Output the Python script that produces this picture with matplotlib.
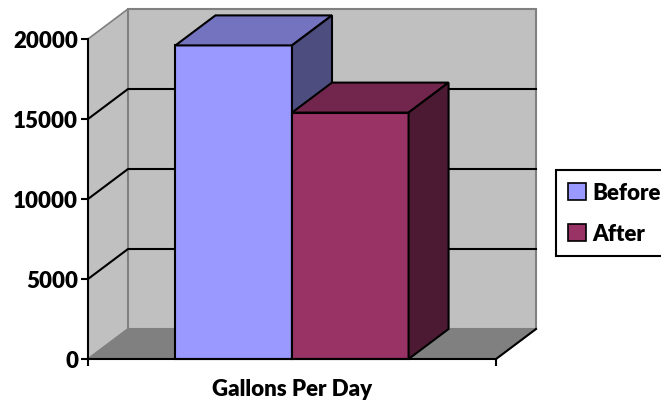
import numpy as np
import matplotlib as mpl
mpl.use("Agg")
from matplotlib import pyplot as plt
from matplotlib.patches import Polygon, Patch

# ------------------ data ------------------ #
series_names = ["Before", "After"]
gallons = [19600, 15400]
category = "Gallons Per Day"
yticks = [0, 5000, 10000, 15000, 20000]

front_colors = ["#9999FF", "#993366"]
top_colors = ["#7373C0", "#73264D"]
side_colors = ["#4D4D80", "#4D1A33"]

plt.rcParams["font.family"] = ["Lato", "DejaVu Sans"]
fontsize = 16
weight = "heavy"

W, H = 661, 402
fig = plt.figure(figsize=(W / 100, H / 100), dpi=100)
# front plane of the 3d box in pixel units
x0, x1, ytop, ybot = 88, 496, 40, 360
ax = fig.add_axes([x0 / W, 1 - ybot / H, (x1 - x0) / W, (ybot - ytop) / H])
ymax = yticks[-1]
ax.set_xlim(0, 1)
ax.set_ylim(0, ymax)

# depth offset (40 px right, 30 px up)
dx = 40 / (x1 - x0)
dy = 30 / (ybot - ytop) * ymax

wall = "#C0C0C0"
edge = "#808080"
# side wall, back wall, floor
ax.add_patch(Polygon([(0, 0), (dx, dy), (dx, ymax + dy), (0, ymax)], closed=True,
                     fc=wall, ec=edge, lw=1.2, clip_on=False, zorder=1))
ax.add_patch(Polygon([(dx, dy), (1 + dx, dy), (1 + dx, ymax + dy), (dx, ymax + dy)], closed=True,
                     fc=wall, ec=edge, lw=1.5, clip_on=False, zorder=1))
ax.add_patch(Polygon([(0, 0), (1, 0), (1 + dx, dy), (dx, dy)], closed=True,
                     fc="#808080", ec=edge, lw=1.2, clip_on=False, zorder=1))
ax.plot([1, 1 + dx], [0, dy], color="k", lw=1.5, clip_on=False, zorder=2)

# gridlines on side and back walls
for v in yticks[1:-1]:
    ax.plot([0, dx, 1 + dx], [v, v + dy, v + dy], color="k", lw=1.5, clip_on=False, zorder=2)

# bars (gap width 150%)
n = len(gallons)
gap = 1.5
bw = 1 / (n + gap)
start = gap * bw / 2
for i, val in enumerate(gallons):
    left = start + i * bw
    right = left + bw
    kw = dict(closed=True, ec="k", lw=1.5, clip_on=False, zorder=3 + i)
    ax.add_patch(Polygon([(left, 0), (right, 0), (right, val), (left, val)], fc=front_colors[i], **kw))
    ax.add_patch(Polygon([(left, val), (right, val), (right + dx, val + dy), (left + dx, val + dy)],
                         fc=top_colors[i], **kw))
    ax.add_patch(Polygon([(right, 0), (right + dx, dy), (right + dx, val + dy), (right, val)],
                         fc=side_colors[i], **kw))

# axes
for s in ["top", "right"]:
    ax.spines[s].set_visible(False)
for s in ["left", "bottom"]:
    ax.spines[s].set_color("k")
    ax.spines[s].set_linewidth(1.5)
    ax.spines[s].set_zorder(6)
ax.set_yticks(yticks)
ax.set_yticklabels([str(t) for t in yticks], fontsize=fontsize, fontweight=weight)
ax.set_xticks([0, 1])
ax.set_xticklabels(["", ""])
ax.tick_params(axis="both", direction="out", length=5, width=1.5, color="k", pad=2)
ax.set_xlabel(category, fontsize=fontsize, fontweight=weight, labelpad=7)
ax.patch.set_visible(False)

handles = [Patch(fc=front_colors[i], ec="k", lw=1.2) for i in range(n)]
leg = fig.legend(handles, series_names, loc="upper left", mode="expand",
                 bbox_to_anchor=(556 / W, 1 - 254 / H, 200 / W, 83 / H),
                 fancybox=False, edgecolor="k", framealpha=1, borderpad=0.55, labelspacing=0.9,
                 handlelength=0.8, handleheight=0.8, handletextpad=0.3, borderaxespad=0,
                 prop={"size": fontsize, "weight": weight})
leg.get_frame().set_linewidth(1.5)

plt.savefig("out.png", dpi=100, facecolor="w")
plt.close("all")
